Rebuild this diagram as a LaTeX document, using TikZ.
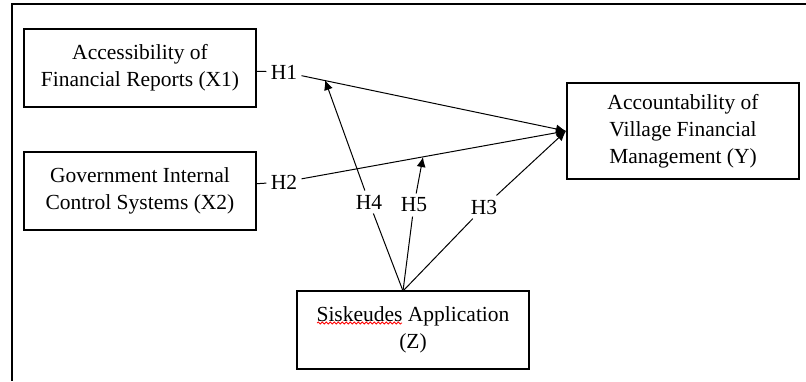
\documentclass[tikz,border=0pt]{standalone}
\usepackage{fontspec}
\setmainfont{Liberation Serif}
\usetikzlibrary{arrows.meta,calc,decorations.pathmorphing}

\begin{document}
\begin{tikzpicture}[x=0.5pt,y=-0.5pt,
    box/.style={draw, line width=1pt, minimum width=116pt, minimum height=39pt,
        inner sep=0pt, align=center, font=\fontsize{10.75}{13.6}\selectfont},
    hyp/.style={inner sep=2pt, font=\fontsize{10.75}{13}\selectfont},
    arr/.style={line width=0.5pt, -{Latex[length=5pt,width=4.5pt]}}]

\useasboundingbox (0,0) rectangle (806,381);

% Frame (top and left only)
\draw[line width=1pt] (806,4) -- (12,4) -- (12,381);

% Variables
\node[box] (x1) at (140,68) {Accessibility of\\Financial Reports (X1)};
\node[box] (x2) at (140,191) {Government Internal\\Control Systems (X2)};
\node[box, minimum height=48pt] (y) at (683,131) {Accountability of\\Village Financial\\Management (Y)};
\node[box] (z) at (413,330) {Siskeudes Application\\(Z)};

% spell-check mark under Siskeudes
\draw[red, line width=0.4pt, decorate, decoration={snake, amplitude=0.5pt, segment length=2pt}]
    (317,323) -- (402,323);

% Hypothesis labels
\node[hyp] (h1) at (284,72) {H1};
\node[hyp] (h2) at (284,182) {H2};
\node[hyp] (h4) at (369,202) {H4};
\node[hyp] (h5) at (414,205) {H5};
\node[hyp] (h3) at (484,207) {H3};

% Points where the moderating arrows end
\coordinate (zt) at (403,291);
\coordinate (m1) at (325,80);
\coordinate (m2) at (423,157);

% Direct effects
\draw[line width=0.5pt] (x1) -- (h1);
\draw[arr] (h1) -- (y.west);
\draw[line width=0.5pt] (x2) -- (h2);
\draw[arr] (h2) -- (y.west);
\draw[arr] (zt) -- (h3) -- (y.west);

% Moderation
\draw[arr] (zt) -- (h4) -- (m1);
\draw[arr] (zt) -- (h5) -- (m2);

\end{tikzpicture}
\end{document}
